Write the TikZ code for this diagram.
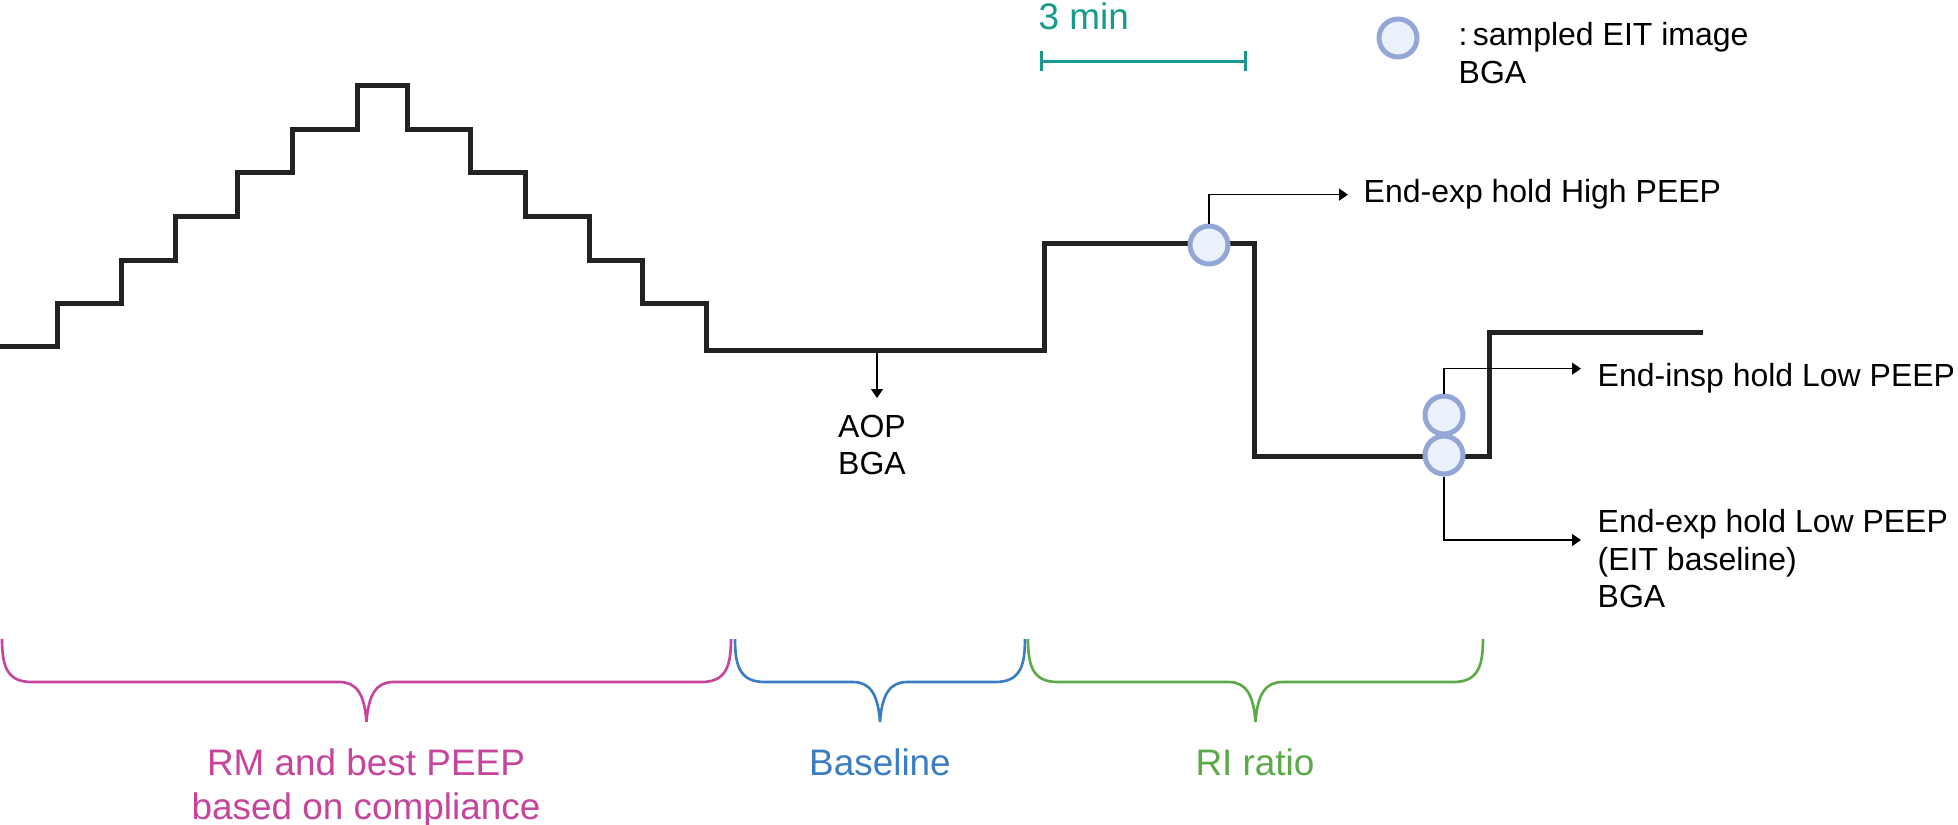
\documentclass[tikz,border=0pt]{standalone}
\usepackage{fontspec}
\setmainfont{Liberation Sans}
\usepackage{tikz}
\usetikzlibrary{arrows.meta}

\definecolor{trace}{HTML}{222222}
\definecolor{ringline}{HTML}{93A7D6}
\definecolor{ringfill}{HTML}{EAF1FB}
\definecolor{rmcol}{HTML}{C6449C}
\definecolor{basecol}{HTML}{3B7DC4}
\definecolor{ricol}{HTML}{5BAA47}
\definecolor{barcol}{HTML}{169A8C}

\tikzset{
	ring/.style={circle, draw=ringline, fill=ringfill, line width=0.5mm, minimum size=3.8mm, inner sep=0pt},
	lbl/.style={anchor=north west, inner sep=0pt, align=left, font=\fontsize{9.1}{10.6}\selectfont},
	phase/.style={anchor=north, inner sep=0pt, align=center, font=\fontsize{10.5}{12.5}\selectfont},
	pointer/.style={line width=0.45pt, -{Triangle[length=0.9mm,width=1.2mm]}},
	brace/.style={line width=0.75pt},
}

\begin{document}
\begin{tikzpicture}[x=0.1mm, y=-0.1mm]
	\useasboundingbox (0,0) rectangle (1958,824);
	\draw[trace, line width=0.5mm] (0,346) -| (57,303) -| (121,260) -| (175,216) -| (237,172) -| (292,129) -| (357,85) -| (407,129) -| (470,172) -| (525,216) -| (589,260) -| (642,303) -| (706,350) -| (1044,243) -| (1254,456) -| (1489,332) -- (1703,332);
	\coordinate (barL) at (1040,61);
	\coordinate (barR) at (1247,61);
	\draw[barcol, line width=0.3mm, {Bar[width=2mm]}-{Bar[width=2mm]}] (barL) -- (barR);
	\node[anchor=north west, inner sep=0pt, text=barcol, font=\fontsize{10.5}{12}\selectfont] (span) at (1038,2) {3 min};
	\node[ring] (key) at (1398,38) {};
	\node[lbl] (keytext) at (1458,22) {:\,sampled EIT image\\BGA};
	\node[lbl] (hitext) at (1363,179) {End-exp hold High PEEP};
	\node[lbl] (loinsptext) at (1597,363) {End-insp hold Low PEEP};
	\node[lbl] (loexptext) at (1597,509) {End-exp hold Low PEEP\\(EIT baseline)\\BGA};
	\node[ring] (hiexp) at (1209,245) {};
	\node[ring] (loinsp) at (1444,415) {};
	\node[ring] (loexp) at (1444,455) {};
	\draw[pointer] (hiexp) |- ([xshift=-1.5mm]hitext.west);
	\draw[pointer] (loinsp) |- ([xshift=-1.6mm,yshift=1mm]loinsptext.west);
	\draw[pointer] (loexp) |- ([xshift=-1.6mm,yshift=-3.1mm]loexptext.north west);
	\coordinate (aop) at (877,353);
	\node[lbl, anchor=north] (aoptext) at (872,414) {AOP\\BGA};
	\draw[pointer, shorten >=1.6mm] (aop) -- (aop |- aoptext.north);
	\foreach \xa/\xb/\col in {2/731/rmcol, 735/1025/basecol, 1028/1483/ricol} {
		\pgfmathsetmacro\xm{(\xa+\xb)/2}
		\draw[brace, draw=\col] (\xa,639) .. controls (\xa,668) and (\xa+6,682) .. (\xa+30,682) -- (\xm-27,682) .. controls (\xm-10,682) and (\xm-2,694) .. (\xm,722) .. controls (\xm+2,694) and (\xm+10,682) .. (\xm+27,682) -- (\xb-30,682) .. controls (\xb-6,682) and (\xb,668) .. (\xb,639);
	}
	\node[phase, text=rmcol] (rm) at (366,748) {RM and best PEEP\\based on compliance};
	\node[phase, text=basecol] (base) at (880,748) {Baseline};
	\node[phase, text=ricol] (ri) at (1255,748) {RI ratio};
\end{tikzpicture}
\end{document}
